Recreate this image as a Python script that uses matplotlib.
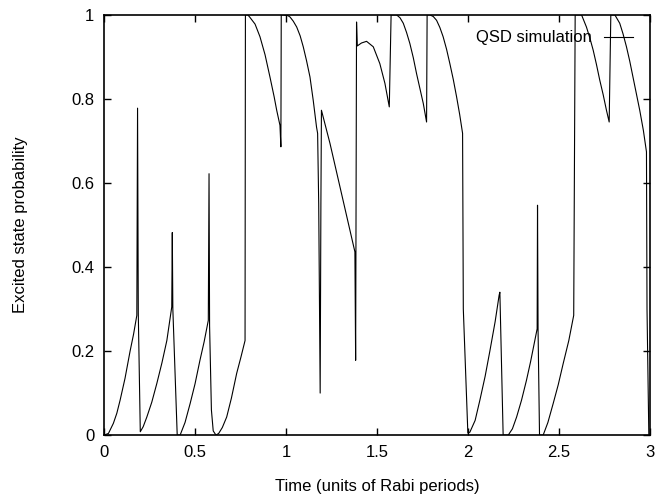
import matplotlib
matplotlib.use("Agg")
from matplotlib import pyplot as plt
from matplotlib.ticker import FuncFormatter

# trajectoire QSD, une liste par periode de Rabi
t_periode1 = [0.0, 0.024, 0.051, 0.070, 0.088, 0.115, 0.143, 0.162, 0.180,
              0.184, 0.188, 0.199,
              0.215, 0.235, 0.262, 0.290, 0.318, 0.345, 0.372, 0.375, 0.378,
              0.402,
              0.418, 0.445, 0.473, 0.500, 0.527, 0.550, 0.573, 0.577, 0.580,
              0.590, 0.600, 0.615,
              0.630, 0.650, 0.674, 0.700, 0.729, 0.752, 0.775, 0.777, 0.790,
              0.800, 0.830, 0.857, 0.885, 0.912, 0.935, 0.949, 0.967, 0.972,
              0.974]
p_periode1 = [0.0, 0.004, 0.028, 0.052, 0.083, 0.135, 0.200, 0.240, 0.285,
              0.778, 0.290, 0.008,
              0.020, 0.043, 0.078, 0.123, 0.172, 0.225, 0.305, 0.482, 0.300,
              0.0,
              0.0, 0.030, 0.075, 0.122, 0.178, 0.222, 0.273, 0.622, 0.260,
              0.060, 0.010, 0.0,
              0.004, 0.018, 0.043, 0.088, 0.147, 0.185, 0.225, 1.0, 1.0,
              0.995, 0.978, 0.948, 0.905, 0.852, 0.805, 0.773, 0.737, 0.686,
              1.0]

t_periode2 = [0.984, 1.011, 1.022, 1.040, 1.059, 1.078, 1.095, 1.113, 1.132,
              1.150, 1.168, 1.174, 1.180, 1.188, 1.192, 1.195, 1.242, 1.297,
              1.352, 1.379, 1.383, 1.388, 1.392, 1.415, 1.443, 1.480, 1.516,
              1.544, 1.568, 1.578, 1.608, 1.627, 1.645, 1.663, 1.681, 1.700,
              1.718, 1.736, 1.755, 1.773, 1.776, 1.791, 1.810, 1.828, 1.846,
              1.864, 1.883, 1.901, 1.920, 1.938, 1.955, 1.971, 1.975]
p_periode2 = [1.0, 0.998, 0.995, 0.985, 0.971, 0.950, 0.924, 0.891, 0.852,
              0.796, 0.733, 0.718, 0.550, 0.100, 0.550, 0.773, 0.694, 0.590,
              0.487, 0.436, 0.178, 0.983, 0.926, 0.933, 0.937, 0.924, 0.884,
              0.837, 0.781, 1.0, 1.0, 0.993, 0.980, 0.958, 0.932, 0.898,
              0.860, 0.826, 0.789, 0.745, 1.0, 1.0, 0.996, 0.987, 0.970,
              0.948, 0.918, 0.884, 0.846, 0.805, 0.763, 0.718, 0.300]

t_periode3 = [2.000, 2.011, 2.040, 2.066, 2.095, 2.121, 2.150, 2.172, 2.176,
              2.194, 2.222, 2.245, 2.268, 2.295, 2.322, 2.345, 2.368, 2.381,
              2.383, 2.386, 2.394,
              2.414, 2.440, 2.469, 2.497, 2.524, 2.555, 2.582, 2.590, 2.625,
              2.652, 2.670, 2.689,
              2.707, 2.725, 2.744, 2.762, 2.777, 2.786, 2.808, 2.835, 2.853,
              2.872, 2.890, 2.908, 2.927, 2.945, 2.965, 2.982, 2.985, 2.995]
p_periode3 = [0.005, 0.007, 0.035, 0.083, 0.140, 0.200, 0.270, 0.333, 0.340,
              0.0, 0.0, 0.015, 0.043, 0.083, 0.130, 0.175, 0.225, 0.253,
              0.547, 0.250, 0.0,
              0.0, 0.030, 0.075, 0.120, 0.170, 0.225, 0.285, 1.0, 1.0,
              0.971, 0.946, 0.916,
              0.882, 0.845, 0.810, 0.773, 0.745, 1.0, 1.0, 0.980, 0.955,
              0.924, 0.890, 0.852, 0.812, 0.773, 0.725, 0.674, 0.300, 0.0]

x_ticks = [0, 0.5, 1, 1.5, 2, 2.5, 3]
y_ticks = [0, 0.2, 0.4, 0.6, 0.8, 1]

temps = t_periode1 + t_periode2 + t_periode3
proba = p_periode1 + p_periode2 + p_periode3

plt.rcParams['font.family'] = ['Liberation Sans', 'DejaVu Sans']

fig = plt.figure(figsize=(6.63, 4.95), dpi=100)
ax = fig.add_axes([0.157, 0.121, 0.823, 0.849])

ax.plot(temps, proba, color='black', linewidth=0.8, label="QSD simulation")

ax.set_xlim(0, 3)
ax.set_ylim(0, 1)
ax.set_xticks(x_ticks)
ax.set_yticks(y_ticks)
fmt = FuncFormatter(lambda v, pos: "%g" % v)
ax.xaxis.set_major_formatter(fmt)
ax.yaxis.set_major_formatter(fmt)
ax.tick_params(direction='in', length=5, width=1, top=True, right=True,
               labelsize=12, pad=7)
for s in ax.spines.values():
    s.set_linewidth(1.2)

ax.set_xlabel("Time (units of Rabi periods)", fontsize=12)
ax.set_ylabel("Excited state probability", fontsize=12)
ax.xaxis.set_label_coords(0.5, -0.105)
ax.yaxis.set_label_coords(-0.139, 0.5)

leg = ax.legend(loc='upper right', frameon=False, fontsize=12,
                handlelength=1.75, handletextpad=0.7, markerfirst=False,
                borderaxespad=0, bbox_to_anchor=(0.981, 0.979))

fig.savefig("out.png", dpi=100)
